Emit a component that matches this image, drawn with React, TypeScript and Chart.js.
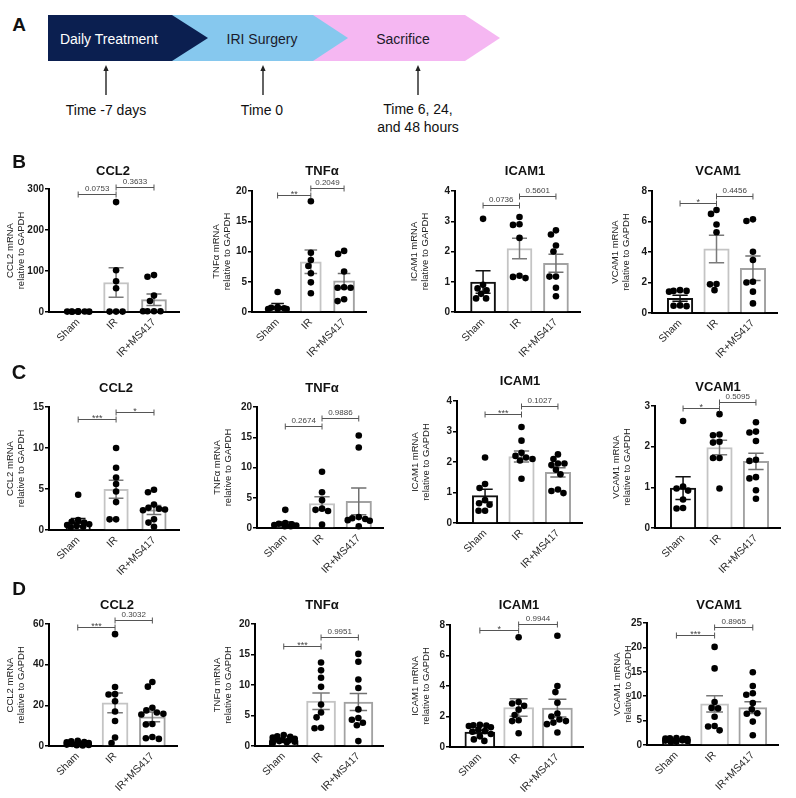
import React, { useEffect, useRef } from 'react';
import { Chart, registerables } from 'chart.js';
Chart.register(...registerables);

const FONT = '"Liberation Sans", Arial, Helvetica, sans-serif';

const groups = ['Sham', 'IR', 'IR+MS417'];
const genes = ['CCL2', 'TNFα', 'ICAM1', 'VCAM1'];
const yTitleLine2 = 'relative to GAPDH';

// ---------- Panel B ----------
const bCcl2Points = [[1.5, 1.2, 1.0, 0.9, 0.8, 0.7, 1.1], [268, 102, 75, 58, 1, 1, 1], [90, 86, 40, 27, 2, 2, 2, 2]];
const bCcl2Mean = [1, 72, 30];
const bCcl2Sem = [0.3, 36, 14];
const bCcl2Ticks = [0, 100, 200, 300];
const bCcl2P = ['0.0753', '0.3633'];

const bTnfPoints = [[3.3, 0.8, 0.7, 0.6, 0.5, 0.5, 0.5], [18.3, 9.8, 8.6, 7.6, 6.4, 4.9, 3.1], [10.1, 9.6, 6.7, 4.1, 4.0, 4.0, 2.1, 1.8]];
const bTnfMean = [0.95, 8.3, 5.15];
const bTnfSem = [0.45, 1.95, 1.2];
const bTnfTicks = [0, 5, 10, 15, 20];
const bTnfP = ['**', '0.2049'];

const bIcamPoints = [[3.08, 0.9, 0.78, 0.72, 0.6, 0.45, 0.45], [3.14, 2.9, 2.88, 2.45, 1.2, 1.16, 1.12], [2.7, 2.56, 2.2, 2.0, 1.17, 1.17, 0.8, 0.52]];
const bIcamMean = [0.99, 2.1, 1.61];
const bIcamSem = [0.37, 0.34, 0.3];
const bIcamTicks = [0, 1, 2, 3, 4];
const bIcamP = ['0.0736', '0.5601'];

const bVcamPoints = [[1.5, 1.45, 1.45, 1.4, 0.5, 0.48, 0.45], [6.75, 6.5, 5.8, 5.3, 1.9, 1.88, 1.5], [6.14, 6.03, 4.02, 3.48, 2.05, 2.0, 1.4, 0.63]];
const bVcamMean = [0.97, 4.2, 2.93];
const bVcamSem = [0.2, 0.9, 0.8];
const bVcamTicks = [0, 2, 4, 6, 8];
const bVcamP = ['*', '0.4456'];

// ---------- Panel C ----------
const cCcl2Points = [[4.3, 1.2, 1.0, 0.9, 0.7, 0.6, 0.5, 0.4, 0.3], [10.0, 7.6, 6.4, 5.6, 4.7, 3.4, 1.3, 1.3], [4.9, 4.6, 3.1, 2.7, 2.6, 2.5, 2.4, 1.3, 0.9, 0.4]];
const cCcl2Mean = [0.95, 4.97, 2.45];
const cCcl2Sem = [0.45, 1.1, 0.55];
const cCcl2Ticks = [0, 5, 10, 15];
const cCcl2P = ['***', '*'];

const cTnfPoints = [[3.0, 0.8, 0.7, 0.6, 0.5, 0.4, 0.3, 0.3], [9.3, 5.9, 4.6, 3.2, 3.0, 2.8, 0.55], [15.3, 13.3, 1.8, 1.6, 1.5, 1.3, 1.2, 0.3]];
const cTnfMean = [0.7, 4.05, 4.4];
const cTnfSem = [0.3, 1.1, 2.2];
const cTnfTicks = [0, 5, 10, 15, 20];
const cTnfP = ['0.2674', '0.9886'];

const cIcamPoints = [[2.15, 1.28, 1.15, 0.75, 0.65, 0.6, 0.4, 0.4], [3.15, 2.7, 2.3, 2.2, 2.15, 2.1, 2.05, 1.45], [2.25, 2.1, 1.95, 1.95, 1.9, 1.75, 1.6, 1.1, 1.05, 0.98]];
const cIcamMean = [0.9, 2.18, 1.66];
const cIcamSem = [0.21, 0.18, 0.15];
const cIcamTicks = [0, 1, 2, 3, 4];
const cIcamP = ['***', '0.1027'];

const cVcamPoints = [[2.63, 1.02, 0.97, 0.92, 0.7, 0.49, 0.48], [2.8, 2.3, 2.28, 2.12, 2.1, 1.72, 1.72, 0.97], [2.6, 2.37, 2.35, 2.14, 1.68, 1.65, 1.25, 1.22, 0.93, 0.72]];
const cVcamMean = [0.98, 1.98, 1.64];
const cVcamSem = [0.28, 0.18, 0.2];
const cVcamTicks = [0, 1, 2, 3];
const cVcamP = ['*', '0.5095'];

// ---------- Panel D ----------
const dCcl2Points = [[2.6, 2.3, 2.0, 1.8, 1.5, 1.3, 1.0, 0.9, 0.7, 0.5, 0.4, 0.3], [55, 29, 25.5, 25.3, 22, 17, 12.3, 4.2, 1.5], [31.5, 29.2, 18.8, 17.5, 16.5, 15.8, 15.5, 10.8, 10.6, 4.4, 3.8, 3.5]];
const dCcl2Mean = [1.0, 21.2, 14.3];
const dCcl2Sem = [0.25, 4.9, 2.4];
const dCcl2Ticks = [0, 20, 40, 60];
const dCcl2P = ['***', '0.3032'];

const dTnfPoints = [[1.8, 1.6, 1.5, 1.4, 1.2, 1.0, 0.9, 0.9, 0.8, 0.7, 0.6, 0.5], [13.7, 12.4, 11.2, 9.7, 6.8, 5.5, 4.7, 3.0, 2.9], [15.1, 13.8, 10.9, 9.5, 6.0, 4.6, 4.3, 3.8, 3.4, 0.8]];
const dTnfMean = [0.9, 7.35, 7.2];
const dTnfSem = [0.12, 1.35, 1.4];
const dTnfTicks = [0, 5, 10, 15, 20];
const dTnfP = ['***', '0.9951'];

const dIcamPoints = [[1.45, 1.42, 1.4, 1.38, 1.3, 1.15, 1.05, 1.0, 0.85, 0.7, 0.5, 0.4], [7.2, 2.95, 2.85, 2.7, 2.45, 2.1, 1.75, 1.7, 0.9], [7.3, 4.0, 3.6, 2.9, 2.2, 2.0, 1.8, 1.7, 1.6, 1.5, 0.95]];
const dIcamMean = [0.98, 2.59, 2.55];
const dIcamSem = [0.1, 0.58, 0.58];
const dIcamTicks = [0, 2, 4, 6, 8];
const dIcamP = ['*', '0.9944'];

const dVcamPoints = [[1.4, 1.35, 1.3, 1.3, 1.2, 1.1, 1.0, 0.95, 0.9, 0.8, 0.7, 0.6], [20.1, 15.7, 8.8, 7.6, 7.5, 5.8, 3.9, 3.8, 3.0], [14.9, 12.1, 10.6, 10.3, 8.6, 7.3, 6.5, 6.4, 4.8, 2.0]];
const dVcamMean = [1.05, 8.42, 7.67];
const dVcamSem = [0.08, 1.65, 1.2];
const dVcamTicks = [0, 5, 10, 15, 20, 25];
const dVcamP = ['***', '0.8965'];

// ---------- layout (positions / styles only) ----------
const colLeft = [0, 190, 390, 590];
const colW = [190, 200, 200, 206];
const X_MIN = -0.77;
const X_MAX = 2.66;
const PAD_TOP = 24;
const X_AXIS_H = 62;
const barBorder = ['#111111', '#c4c4c4', '#a2a2a2'];
const errColor = ['#111111', '#7a7a7a', '#707070'];

const panels = [
  { gene: 0, pts: bCcl2Points, mean: bCcl2Mean, sem: bCcl2Sem, ticks: bCcl2Ticks, p: bCcl2P, L: { col: 0, left: 49, right: 179, top: 189, zero: 312, barW: 25, tx: 113, ty: 170, ytx: 10, sig: [287, 305] } },
  { gene: 1, pts: bTnfPoints, mean: bTnfMean, sem: bTnfSem, ticks: bTnfTicks, p: bTnfP, L: { col: 1, left: 252, right: 366, top: 191, zero: 312, barW: 21, tx: 322, ty: 170, ytx: 26, sig: [19.4, 20.5] } },
  { gene: 2, pts: bIcamPoints, mean: bIcamMean, sem: bIcamSem, ticks: bIcamTicks, p: bIcamP, L: { col: 2, left: 455, right: 580, top: 191, zero: 312, barW: 25, tx: 525, ty: 170, ytx: 24, sig: [3.53, 3.84] } },
  { gene: 3, pts: bVcamPoints, mean: bVcamMean, sem: bVcamSem, ticks: bVcamTicks, p: bVcamP, L: { col: 3, left: 652, right: 777, top: 191, zero: 313, barW: 25.5, tx: 718, ty: 170, ytx: 25, sig: [7.2, 7.67] } },

  { gene: 0, pts: cCcl2Points, mean: cCcl2Mean, sem: cCcl2Sem, ticks: cCcl2Ticks, p: cCcl2P, L: { col: 0, left: 49, right: 179, top: 407, zero: 530, barW: 24.5, tx: 116, ty: 387, ytx: 10, sig: [13.5, 14.35] } },
  { gene: 1, pts: cTnfPoints, mean: cTnfMean, sem: cTnfSem, ticks: cTnfTicks, p: cTnfP, L: { col: 1, left: 257, right: 383, top: 407, zero: 528, barW: 25.5, tx: 322, ty: 387, ytx: 27, sig: [16.9, 18.25] } },
  { gene: 2, pts: cIcamPoints, mean: cIcamMean, sem: cIcamSem, ticks: cIcamTicks, p: cIcamP, L: { col: 2, left: 457, right: 582, top: 401, zero: 523, barW: 25.5, tx: 520, ty: 380, ytx: 25, sig: [3.57, 3.84] } },
  { gene: 3, pts: cVcamPoints, mean: cVcamMean, sem: cVcamSem, ticks: cVcamTicks, p: cVcamP, L: { col: 3, left: 655, right: 780, top: 406, zero: 528, barW: 25.5, tx: 718, ty: 386, ytx: 26, sig: [2.94, 3.1] } },

  { gene: 0, pts: dCcl2Points, mean: dCcl2Mean, sem: dCcl2Sem, ticks: dCcl2Ticks, p: dCcl2P, L: { col: 0, left: 49, right: 177, top: 624, zero: 746, barW: 26, tx: 117, ty: 604, ytx: 10, sig: [58.7, 62] } },
  { gene: 1, pts: dTnfPoints, mean: dTnfMean, sem: dTnfSem, ticks: dTnfTicks, p: dTnfP, L: { col: 1, left: 255, right: 383, top: 624, zero: 746, barW: 29, tx: 322, ty: 604, ytx: 27, sig: [16.4, 17.8] } },
  { gene: 2, pts: dIcamPoints, mean: dIcamMean, sem: dIcamSem, ticks: dIcamTicks, p: dIcamP, L: { col: 2, left: 450, right: 583, top: 625, zero: 747, barW: 30, tx: 519, ty: 604, ytx: 25, sig: [7.67, 8.06] } },
  { gene: 3, pts: dVcamPoints, mean: dVcamMean, sem: dVcamSem, ticks: dVcamTicks, p: dVcamP, L: { col: 3, left: 647, right: 778, top: 623, zero: 745, barW: 28, tx: 719, ty: 604, ytx: 27, sig: [22.6, 24.2] } },
];

const annotPlugin = {
  id: 'annot',
  afterDatasetDraw(chart: any, args: any, opts: any) {
    if (args.index !== 0) return;
    const cfg = opts.cfg;
    const { ctx } = chart;
    const xs = chart.scales.x, ys = chart.scales.y;
    const cap = cfg.L.barW * 0.3;
    ctx.save();
    cfg.mean.forEach((m: number, i: number) => {
      const x = xs.getPixelForValue(i);
      const y1 = ys.getPixelForValue(m + cfg.sem[i]);
      const y2 = ys.getPixelForValue(Math.max(0, m - cfg.sem[i]));
      ctx.strokeStyle = errColor[i];
      ctx.lineWidth = 1.5;
      ctx.beginPath();
      ctx.moveTo(x, y1); ctx.lineTo(x, y2);
      ctx.moveTo(x - cap, y1); ctx.lineTo(x + cap, y1);
      ctx.moveTo(x - cap, y2); ctx.lineTo(x + cap, y2);
      ctx.stroke();
    });
    ctx.restore();
  },
  afterDraw(chart: any, _args: any, opts: any) {
    const cfg = opts.cfg;
    const { ctx } = chart;
    const xs = chart.scales.x, ys = chart.scales.y;
    ctx.save();
    cfg.p.forEach((label: string, k: number) => {
      const x1 = xs.getPixelForValue(k);
      const x2 = xs.getPixelForValue(k + 1);
      const y = Math.round(ys.getPixelForValue(cfg.L.sig[k])) + 0.5;
      ctx.strokeStyle = '#555';
      ctx.lineWidth = 1;
      ctx.beginPath();
      ctx.moveTo(x1, y); ctx.lineTo(x2, y);
      ctx.moveTo(x1, y - 3); ctx.lineTo(x1, y + 3);
      ctx.moveTo(x2, y - 3); ctx.lineTo(x2, y + 3);
      ctx.stroke();
      ctx.fillStyle = '#444';
      ctx.textAlign = 'center';
      ctx.textBaseline = 'bottom';
      const star = label.indexOf('*') >= 0;
      ctx.font = `${star ? 9 : 8}px ${FONT}`;
      ctx.fillText(label, (x1 + x2) / 2, star ? y + 4 : y - 1.5);
    });
    ctx.restore();
  },
};

function Panel({ cfg }: { cfg: any }) {
  const ref = useRef<HTMLCanvasElement>(null);
  const L = cfg.L;
  const cLeft = colLeft[L.col];
  const cW = colW[L.col];
  const cTop = L.top - PAD_TOP;
  const cH = L.zero - cTop + X_AXIS_H;

  useEffect(() => {
    if (!ref.current) return;
    const initial: any[] = [];
    cfg.pts.forEach((vals: number[], g: number) => vals.forEach((v) => initial.push({ x: g, y: v })));
    const chart = new Chart(ref.current, {
      type: 'bar',
      data: {
        datasets: [
          {
            type: 'bar',
            data: cfg.mean.map((m: number, i: number) => ({ x: i, y: m })),
            backgroundColor: '#ffffff',
            borderColor: barBorder,
            borderWidth: 2,
            barThickness: L.barW,
            order: 2,
          } as any,
          {
            type: 'scatter',
            data: initial,
            pointRadius: 3.3,
            pointBackgroundColor: '#000',
            pointBorderWidth: 0,
            showLine: false,
            clip: false,
            order: 1,
          } as any,
        ],
      },
      options: {
        animation: false,
        responsive: false,
        devicePixelRatio: 1,
        layout: { padding: { top: PAD_TOP, left: 0, bottom: 0, right: cLeft + cW - L.right } },
        plugins: { legend: { display: false }, tooltip: { enabled: false }, annot: { cfg } } as any,
        scales: {
          x: {
            type: 'linear',
            min: X_MIN,
            max: X_MAX,
            offset: false,
            grid: { display: false, drawTicks: false },
            border: { display: true, color: '#000', width: 2 },
            ticks: {
              autoSkip: false,
              minRotation: 45,
              maxRotation: 45,
              padding: 4,
              color: '#2a2a2a',
              font: { family: FONT, size: 10.5 },
              callback: (v: any) => groups[v] ?? '',
            },
            afterBuildTicks: (s: any) => { s.ticks = [0, 1, 2].map((v) => ({ value: v })); },
            afterFit: (s: any) => { s.height = X_AXIS_H; },
          } as any,
          y: {
            min: 0,
            max: cfg.ticks[cfg.ticks.length - 1],
            grid: { display: true, drawOnChartArea: false, drawTicks: true, tickLength: 4, color: '#000', lineWidth: 1.5 },
            border: { display: true, color: '#000', width: 2 },
            ticks: { padding: 1, color: '#1a1a1a', font: { family: FONT, size: 10, weight: 'bold' } },
            afterBuildTicks: (s: any) => { s.ticks = cfg.ticks.map((v: number) => ({ value: v })); },
            afterFit: (s: any) => { s.width = L.left - cLeft; },
            title: {
              display: true,
              text: [`${genes[cfg.gene]} mRNA`, yTitleLine2],
              color: '#222',
              font: { family: FONT, size: 9.5, lineHeight: 1.15 },
              padding: { top: L.ytx - 5.5, bottom: 0 },
            },
          } as any,
        },
      },
      plugins: [annotPlugin],
    });

    // beeswarm spread of the scatter points, done in pixel space through the scales
    const xs: any = chart.scales.x, ys: any = chart.scales.y;
    const unit = xs.getPixelForValue(1) - xs.getPixelForValue(0);
    const minD = 6.4;
    const maxHalf = Math.min(11, L.barW * 0.45);
    const placedData: any[] = [];
    cfg.pts.forEach((vals: number[], g: number) => {
      const placed: { x: number; y: number }[] = [];
      const order = vals.map((_, i) => i).sort((a, b) => vals[b] - vals[a]);
      for (const i of order) {
        const py = ys.getPixelForValue(vals[i]);
        let best = 0, bestScore = Infinity;
        for (let off = -maxHalf; off <= maxHalf + 1e-6; off += 0.5) {
          let pen = 0;
          for (const p of placed) {
            const d = Math.hypot(p.x - off, p.y - py);
            if (d < minD) pen += minD - d;
          }
          const score = pen * 100 + Math.abs(off);
          if (score < bestScore - 1e-9) { bestScore = score; best = off; }
        }
        placed.push({ x: best, y: py });
        placedData.push({ x: g + best / unit, y: vals[i] });
      }
    });
    (chart.data.datasets[1] as any).data = placedData;
    chart.update('none');

    return () => chart.destroy();
  }, []);

  return (
    <canvas
      ref={ref}
      width={cW}
      height={cH}
      style={{ position: 'absolute', left: cLeft, top: cTop, width: cW, height: cH }}
    />
  );
}

const txt = (s: string, x: number, y: number, size: number, bold: boolean, key: string) => (
  <div
    key={key}
    style={{
      position: 'absolute', left: x, top: y, transform: 'translate(-50%, -50%)',
      fontFamily: FONT, fontSize: size, fontWeight: bold ? 'bold' : 'normal',
      lineHeight: 1, whiteSpace: 'nowrap', color: '#111',
    }}
  >{s}</div>
);

function Timeline() {
  const arrow = (x: number) => (
    <g key={x}>
      <line x1={x} y1={70} x2={x} y2={95} stroke="#222" strokeWidth={1.4} />
      <polygon points={`${x - 2.6},${71} ${x + 2.6},${71} ${x},${65}`} fill="#222" />
    </g>
  );
  return (
    <svg width={560} height={140} style={{ position: 'absolute', left: 0, top: 0 }}>
      <polygon points="313,15 465,15 500,38 465,61 313,61" fill="#f5b7f2" />
      <polygon points="172,15 313,15 348,38 313,61 172,61" fill="#86c8ee" />
      <polygon points="48,15 172,15 208,38 172,61 48,61" fill="#0b1f50" />
      <text x={109} y={39} textAnchor="middle" dominantBaseline="central" fill="#fff" fontFamily={FONT} fontSize={14}>Daily Treatment</text>
      <text x={262} y={39} textAnchor="middle" dominantBaseline="central" fill="#1b1b2b" fontFamily={FONT} fontSize={14}>IRI Surgery</text>
      <text x={403} y={39} textAnchor="middle" dominantBaseline="central" fill="#1b1b2b" fontFamily={FONT} fontSize={14}>Sacrifice</text>
      {arrow(106)}
      {arrow(263)}
      {arrow(418)}
      <text x={106} y={110} textAnchor="middle" dominantBaseline="central" fill="#111" fontFamily={FONT} fontSize={14}>Time -7 days</text>
      <text x={262} y={110} textAnchor="middle" dominantBaseline="central" fill="#111" fontFamily={FONT} fontSize={14}>Time 0</text>
      <text x={418} y={109} textAnchor="middle" dominantBaseline="central" fill="#111" fontFamily={FONT} fontSize={14}>Time 6, 24,</text>
      <text x={418} y={127} textAnchor="middle" dominantBaseline="central" fill="#111" fontFamily={FONT} fontSize={14}>and 48 hours</text>
      <text x={19} y={24} textAnchor="middle" dominantBaseline="central" fill="#111" fontFamily={FONT} fontSize={19} fontWeight="bold">A</text>
    </svg>
  );
}

export default function App() {
  return (
    <div style={{ position: 'absolute', left: 0, top: 0, width: 796, height: 798, background: '#fff', overflow: 'hidden' }}>
      <Timeline />
      {panels.map((cfg, i) => <Panel key={i} cfg={cfg} />)}
      {panels.map((cfg, i) => txt(genes[cfg.gene], cfg.L.tx, cfg.L.ty, 13, true, 't' + i))}
      {txt('B', 19, 161, 19, true, 'lb')}
      {txt('C', 19, 372, 20, true, 'lc')}
      {txt('D', 19, 588, 19, true, 'ld')}
    </div>
  );
}
